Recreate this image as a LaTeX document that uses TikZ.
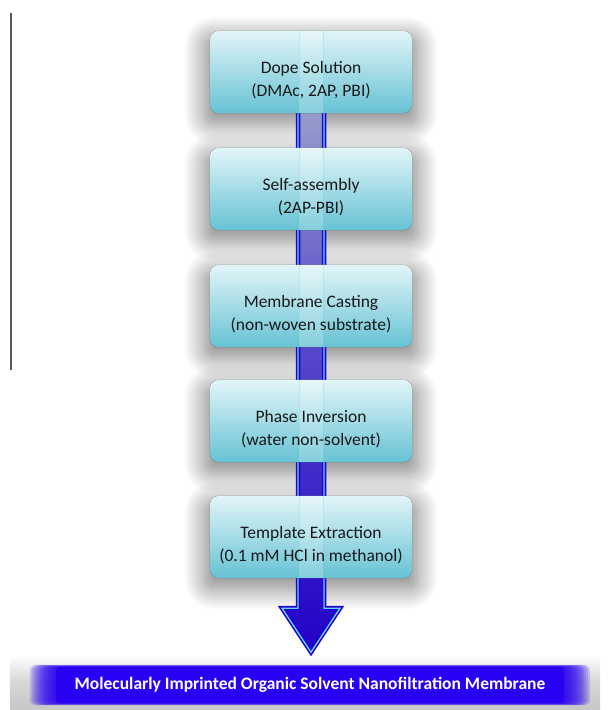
\documentclass[tikz,border=0pt]{standalone}
\usepackage{fontspec}
\setmainfont{Carlito}
\usetikzlibrary{shadows.blur, calc}

\definecolor{boxtop}{HTML}{E2F5F8}
\definecolor{boxbot}{HTML}{66C2D4}
\definecolor{arrblue}{HTML}{2400D8}
\definecolor{arrcyan}{HTML}{62DCE2}
\definecolor{shafttop}{HTML}{A9B6CC}
\definecolor{shaftbot}{HTML}{2200C8}
\definecolor{barblue}{HTML}{2A00F2}

\pgfdeclarelayer{back}
\pgfdeclarelayer{arrow}
\pgfdeclarelayer{boxes}
\pgfdeclarelayer{glass}
\pgfsetlayers{back,arrow,boxes,glass,main}

\begin{document}
\begin{tikzpicture}[x=1pt, y=-1pt,
        stepbox/.style={minimum width=202pt, minimum height=82pt, inner sep=0pt,
            align=center, text=black!90, font=\fontsize{17.5}{23.5}\selectfont},
        resultbar/.style={minimum width=560pt, minimum height=40pt, inner sep=0pt,
            text=white, font=\bfseries\fontsize{17.5}{20}\selectfont},
        boxshadow/.style={blur shadow={shadow xshift=0pt, shadow yshift=-8pt,
            shadow blur radius=20pt, shadow blur steps=24, shadow opacity=50, shadow scale=1.05}},
        arrowbody/.style={draw=arrblue, line width=1.6pt, double=arrcyan,
            double distance=1.3pt, line join=miter,
            top color=shafttop, bottom color=shaftbot, middle color=shafttop!40!shaftbot}]
        \useasboundingbox (0,0) rectangle (610,710);

        % side rule
        \draw[gray!70!black, line width=1.4pt] (11,13) -- (11,370);

        % process steps (text sits a little below the middle of each box)
        \node[stepbox] (s1) at (311,80) {Dope Solution\\(DMAc, 2AP, PBI)};
        \node[stepbox] (s2) at (311,197) {Self-assembly\\(2AP-PBI)};
        \node[stepbox] (s3) at (311,314) {Membrane Casting\\(non-woven substrate)};
        \node[stepbox] (s4) at (311,429) {Phase Inversion\\(water non-solvent)};
        \node[stepbox] (s5) at (311,545) {Template Extraction\\(0.1 mM HCl in methanol)};
        \node[resultbar] (res) at (310,685) {Molecularly Imprinted Organic Solvent Nanofiltration Membrane};

        \coordinate (atop) at (s1.north);
        \coordinate (tip) at ($(s5.south)+(0,66)$);

        \begin{pgfonlayer}{back}
            \foreach \s in {s1,s2,s3,s4,s5}
                \fill[white, rounded corners=9pt, boxshadow]
                    ($(\s.south west)+(0,-8)$) rectangle ($(\s.north east)+(0,-8)$);
            % grey bed under the result bar
            \fill[top color=white, bottom color=black!22, middle color=black!16]
                ($(res.north west)+(-20,-10)$) rectangle ($(res.south east)+(10,5)$);
        \end{pgfonlayer}

        \begin{pgfonlayer}{arrow}
            \path[arrowbody] ($(atop)+(-13,0)$) -- ($(tip)+(-13,-44)$) -- ($(tip)+(-29,-44)$)
                -- (tip) -- ($(tip)+(29,-44)$) -- ($(tip)+(13,-44)$) -- ($(atop)+(13,0)$);
        \end{pgfonlayer}

        \begin{pgfonlayer}{boxes}
            \foreach \s in {s1,s2,s3,s4,s5}
                \fill[rounded corners=9pt, top color=boxtop, bottom color=boxbot]
                    ($(\s.south west)+(0,-8)$) rectangle ($(\s.north east)+(0,-8)$);
            % blurred result bar
            \foreach \k in {0,...,12}
                \fill[barblue, opacity=0.16, rounded corners=6pt]
                    ($(res.south west)+(2*\k,-0.15*\k)$) rectangle ($(res.north east)+(-2*\k,0.15*\k)$);
            \fill[barblue, rounded corners=4pt] ($(res.south west)+(26,-2)$) rectangle ($(res.north east)+(-26,2)$);
        \end{pgfonlayer}

        \begin{pgfonlayer}{glass}
            \foreach \s in {s1,s2,s3,s4,s5} {
                \fill[white, opacity=0.2] ($(\s.north)+(-12,-8)$) rectangle ($(\s.south)+(12,-8)$);
                \draw[arrcyan, opacity=0.3, line width=0.7pt] ($(\s.north)+(-12,-8)$) -- ($(\s.south)+(-12,-8)$);
                \draw[arrcyan, opacity=0.3, line width=0.7pt] ($(\s.north)+(12,-8)$) -- ($(\s.south)+(12,-8)$);
            }
        \end{pgfonlayer}
    \end{tikzpicture}
\end{document}
